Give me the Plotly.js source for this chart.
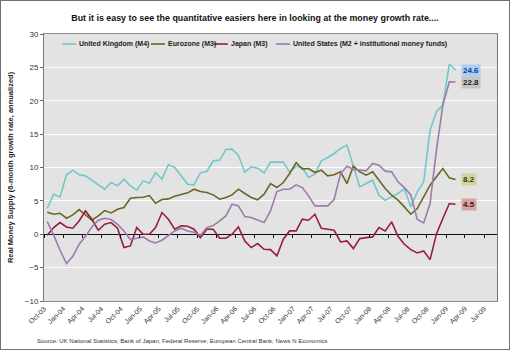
<!DOCTYPE html>
<html>
<head>
<meta charset="utf-8">
<script src="https://cdn.plot.ly/plotly-3.0.1.min.js"></script>
<style>
  html, body { margin: 0; padding: 0; background: #fff; }
  #wrap { position: relative; width: 510px; height: 350px; }
  #chart { width: 510px; height: 350px; }
  #frame { position: absolute; left: 0; top: 0; width: 510px; height: 350px; box-sizing: border-box; border: 1px solid #6f6f6f; pointer-events: none; }
</style>
</head>
<body>
<div id="wrap"><div id="chart"></div><div id="frame"></div></div>
<script>
// Monthly observations, Oct-03 .. Feb-09
const months = [
  "2003-10","2003-11","2003-12",
  "2004-01","2004-02","2004-03","2004-04","2004-05","2004-06","2004-07","2004-08","2004-09","2004-10","2004-11","2004-12",
  "2005-01","2005-02","2005-03","2005-04","2005-05","2005-06","2005-07","2005-08","2005-09","2005-10","2005-11","2005-12",
  "2006-01","2006-02","2006-03","2006-04","2006-05","2006-06","2006-07","2006-08","2006-09","2006-10","2006-11","2006-12",
  "2007-01","2007-02","2007-03","2007-04","2007-05","2007-06","2007-07","2007-08","2007-09","2007-10","2007-11","2007-12",
  "2008-01","2008-02","2008-03","2008-04","2008-05","2008-06","2008-07","2008-08","2008-09","2008-10","2008-11","2008-12",
  "2009-01","2009-02"
];

const ukM4 = [3.9, 6.0, 5.6, 8.9, 9.6, 8.9, 8.75, 8.1, 7.5, 6.75, 7.75, 7.25, 8.25, 7.25, 6.6, 8.0, 7.65, 9.25, 8.25, 10.4,
  10.0, 8.75, 7.5, 7.4, 9.2, 9.4, 11.0, 11.1, 12.7, 12.75, 11.8, 9.3, 10.1, 9.9, 9.2, 10.8, 10.8, 10.8, 9.3, 10.2,
  10.0, 8.5, 9.0, 11.0, 11.5, 12.1, 12.85, 13.35, 10.2, 7.1, 7.6, 8.1, 5.85, 5.1, 5.6, 6.1, 6.85, 4.1, 6.35, 7.85,
  15.6, 18.35, 19.35, 25.5, 24.6];

const euroM3 = [3.3, 3.0, 3.15, 2.4, 2.9, 3.7, 2.9, 2.1, 2.75, 3.55, 3.2, 3.75, 4.0, 5.4, 5.5, 5.55, 5.8, 4.65, 5.2, 5.3,
  5.7, 5.95, 6.2, 6.75, 6.4, 6.25, 5.9, 5.25, 5.5, 5.9, 6.75, 6.1, 5.5, 5.15, 6.0, 7.6, 7.0, 7.75, 9.1, 10.75,
  9.75, 9.85, 9.25, 9.6, 8.75, 8.9, 9.35, 7.6, 10.2, 9.35, 8.85, 9.35, 8.1, 6.85, 5.85, 5.1, 4.1, 3.0, 3.85, 5.6,
  7.35, 8.6, 9.85, 8.45, 8.2];

const japanM3 = [-0.15, 1.0, 1.75, 1.1, 0.9, 2.0, 3.5, 2.25, 0.6, 1.5, 1.75, 0.9, -2.0, -1.75, 1.0, 0.0, 0.0, 1.0, 3.25, 2.25,
  0.75, 1.25, 1.2, 0.75, -0.5, 0.75, 0.75, -0.6, -0.6, 0.0, 1.1, -1.0, -2.0, -1.4, -2.25, -2.3, -3.25, -0.75, 0.5, 0.5,
  2.25, 2.1, 3.0, 0.9, 0.75, 0.6, -1.15, -1.0, -2.15, -0.65, -0.5, -0.4, 1.0, 0.5, 1.85, -0.3, -1.5, -2.3, -2.8, -2.5,
  -3.8, 0.05, 2.35, 4.6, 4.5];

const usM2 = [1.9, -0.1, -2.4, -4.4, -3.3, -1.5, -0.3, 1.1, 2.1, 2.4, 2.2, 1.5, 0.5, -0.8, -0.6, -0.4, -1.0, -1.3, -0.9, -0.25,
  0.5, 0.9, 0.5, 0.3, -0.2, 1.0, 1.3, 2.0, 2.75, 4.5, 4.25, 2.65, 2.5, 2.15, 1.75, 3.5, 6.4, 6.75, 6.75, 7.4,
  7.0, 5.75, 4.25, 4.25, 4.25, 5.2, 9.1, 10.2, 9.7, 9.6, 9.5, 10.6, 10.35, 9.45, 9.35, 7.85, 7.0, 5.9, 2.2, 1.7,
  4.6, 12.6, 19.35, 22.85, 22.8];

const seriesNames = ["United Kingdom (M4)", "Eurozone (M3)", "Japan (M3)", "United States (M2 + institutional money funds)"];
const seriesValues = [ukM4, euroM3, japanM3, usM2];
const lineColors = ["#72C7CB", "#6A6625", "#9A1C3E", "#9D7BA9"];
const labelBg = ["#A9CFF5", "#C4C4C4", "#D3D39B", "#D9A3A3"];
const labelInk = ["#123C82", "#1E1E1E", "#3A3A10", "#4A0E18"];
// end labels in order: UK, US, Euro, Japan
const endLabelSeries = [0, 3, 1, 2];

const FONT = "Liberation Sans, Arial, sans-serif";

// Key (legend) layout: sample-line start for each entry, as fraction of plot width
const keyStart = [0.040, 0.236, 0.375, 0.512];
const keyLineLen = 0.031;
const keyY = 0.9625;

const traces = seriesValues.map((vals, i) => ({
  type: "scatter",
  mode: "lines",
  name: seriesNames[i],
  x: months,
  y: vals,
  xperiod: "M1",
  xperiodalignment: "middle",
  xaxis: i === 3 ? "x2" : "x",
  line: { color: lineColors[i], width: 1.6 },
  hoverinfo: "skip",
  showlegend: false
}));

const endAnnotations = endLabelSeries.map((s, k) => {
  const vals = seriesValues[s];
  const v = vals[vals.length - 1];
  return {
    x: months[months.length - 1], xref: "x", y: v, yref: "y",
    text: "<b>" + v.toFixed(1) + "</b>",
    showarrow: false, xanchor: "left", yanchor: "middle", xshift: 8,
    bgcolor: labelBg[k], borderpad: 1,
    font: { family: FONT, size: 8, color: labelInk[k] }
  };
});

const keyShapes = seriesNames.map((n, i) => ({
  type: "line", xref: "paper", yref: "paper", layer: "above",
  x0: keyStart[i], x1: keyStart[i] + keyLineLen, y0: keyY, y1: keyY,
  line: { color: lineColors[i], width: 1.6 }
}));

const keyTexts = seriesNames.map((n, i) => ({
  xref: "paper", yref: "paper", x: keyStart[i] + keyLineLen, y: keyY,
  xanchor: "left", yanchor: "middle", xshift: 1, showarrow: false,
  text: "<b>" + n + "</b>",
  font: { family: FONT, size: 7, color: "#222" }
}));

const layout = {
  width: 510, height: 350,
  margin: { l: 44, r: 13, t: 34, b: 49 },
  paper_bgcolor: "#ffffff",
  plot_bgcolor: "#E3E3E3",
  showlegend: false,
  title: {
    text: "But it is easy to see the quantitative easiers here in looking at the money growth rate....",
    x: 0.5, xref: "container", y: 1 - 18 / 350, yref: "container", yanchor: "middle",
    font: { family: FONT, size: 8.9, color: "#111", weight: "bold" }
  },
  xaxis: {
    type: "date",
    range: ["2003-10-01", "2009-09-01"],
    tick0: "2003-10-01", dtick: "M3", tickformat: "%b-%y",
    tickangle: -45,
    ticks: "", showgrid: false, zeroline: false,
    showline: true, linecolor: "#8a8a8a", linewidth: 1, mirror: true,
    tickfont: { family: FONT, size: 7, color: "#333" }
  },
  xaxis2: {
    type: "date", overlaying: "x", matches: "x",
    anchor: "free", position: 0.25,
    tick0: "2003-10-01", dtick: "M3",
    ticks: "outside", ticklen: 3, tickcolor: "#111", tickwidth: 1,
    showticklabels: false, showgrid: false, showline: false, zeroline: false
  },
  yaxis: {
    range: [-10, 30], dtick: 5,
    ticks: "outside", ticklen: 3, tickcolor: "#666",
    showline: true, linecolor: "#777", linewidth: 1, mirror: true,
    gridcolor: "#ffffff", gridwidth: 1,
    zeroline: true, zerolinecolor: "#111", zerolinewidth: 1,
    tickfont: { family: FONT, size: 8, color: "#333" },
    title: {
      text: "Real Money Supply (6-month growth rate, annualized)",
      standoff: 10,
      font: { family: FONT, size: 7.5, color: "#222", weight: "bold" }
    }
  },
  shapes: keyShapes,
  annotations: endAnnotations.concat(keyTexts, [{
    xref: "paper", yref: "paper", x: -0.02, y: -0.151,
    xanchor: "left", yanchor: "middle", showarrow: false,
    text: "Source: UK National Statistics; Bank of Japan; Federal Reserve; European Central Bank; News N Economics",
    font: { family: FONT, size: 6, color: "#333" }
  }])
};

Plotly.newPlot("chart", traces, layout, { displayModeBar: false, staticPlot: true });
</script>
</body>
</html>
